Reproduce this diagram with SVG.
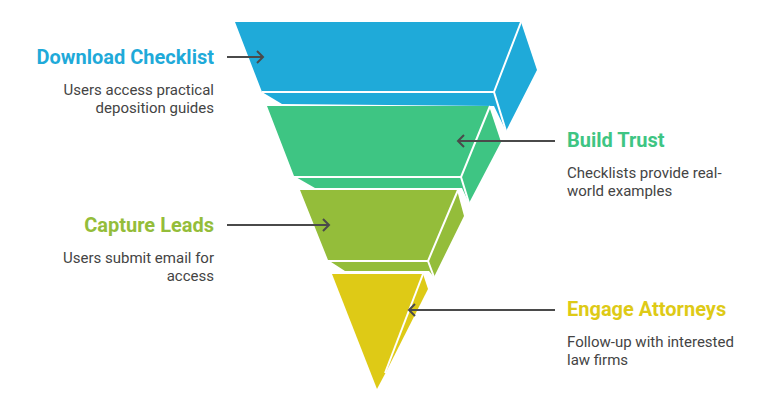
<svg xmlns="http://www.w3.org/2000/svg" width="768" height="401" viewBox="0 0 768 401">
<defs>
<style>
.title{font-family:Roboto,"Liberation Sans",sans-serif;font-weight:700;font-size:20px}
.desc{font-family:Roboto,"Liberation Sans",sans-serif;font-size:15px;fill:#444}
.edge{stroke:#fff;stroke-width:2;fill:none;stroke-linecap:butt}
.conn{stroke:#4a4a4a;stroke-width:2;fill:none}
</style>
</defs>
<rect width="768" height="401" fill="#fff"/>
<g id="seg-download">
<polygon points="235,22 521,22 537,70 506,131 494,106 282,104 262,92" fill="#1FAAD9"/>
<path class="edge" d="M262,92 H494 M521,22 L494,92 L506,131"/>
</g>
<g id="seg-trust">
<polygon points="267,106 489,106 501,142 469,203 462,188 315,188 294,176" fill="#3EC583"/>
<path class="edge" d="M294,177 H461 M490,106 L461,177 L469,203"/>
</g>
<g id="seg-leads">
<polygon points="300,190 457,190 464,216 434,277 429,271 345,271 328,260" fill="#94BD3A"/>
<path class="edge" d="M328,261 H428 M458,190 L428,261 L434,277"/>
</g>
<g id="seg-engage">
<polygon points="332,274 423,274 428,289 386,372 377,389" fill="#DECA16"/>
<path class="edge" d="M423,274 L385,373"/>
</g>
<g id="connectors">
<path class="conn" d="M227,57 H263 M257,51 L263,57 L257,63"/>
<path class="conn" d="M555,141 H458 M464,135 L458,141 L464,147"/>
<path class="conn" d="M227,225 H329 M323,219 L329,225 L323,231"/>
<path class="conn" d="M555,310 H409 M415,304 L409,310 L415,316"/>
</g>
<g id="label-download">
<text class="title" x="214" y="64" text-anchor="end" fill="#1FAAD9">Download Checklist</text>
<text class="desc" x="214" y="95" text-anchor="end">Users access practical</text>
<text class="desc" x="214" y="113" text-anchor="end">deposition guides</text>
</g>
<g id="label-trust">
<text class="title" x="567" y="147" fill="#3EC583">Build Trust</text>
<text class="desc" x="567" y="178">Checklists provide real-</text>
<text class="desc" x="567" y="196">world examples</text>
</g>
<g id="label-leads">
<text class="title" x="214" y="232" text-anchor="end" fill="#94BD3A">Capture Leads</text>
<text class="desc" x="214" y="263" text-anchor="end">Users submit email for</text>
<text class="desc" x="214" y="281" text-anchor="end">access</text>
</g>
<g id="label-engage">
<text class="title" x="567" y="316" fill="#DECA16">Engage Attorneys</text>
<text class="desc" x="567" y="347">Follow-up with interested</text>
<text class="desc" x="567" y="365">law firms</text>
</g>
</svg>
